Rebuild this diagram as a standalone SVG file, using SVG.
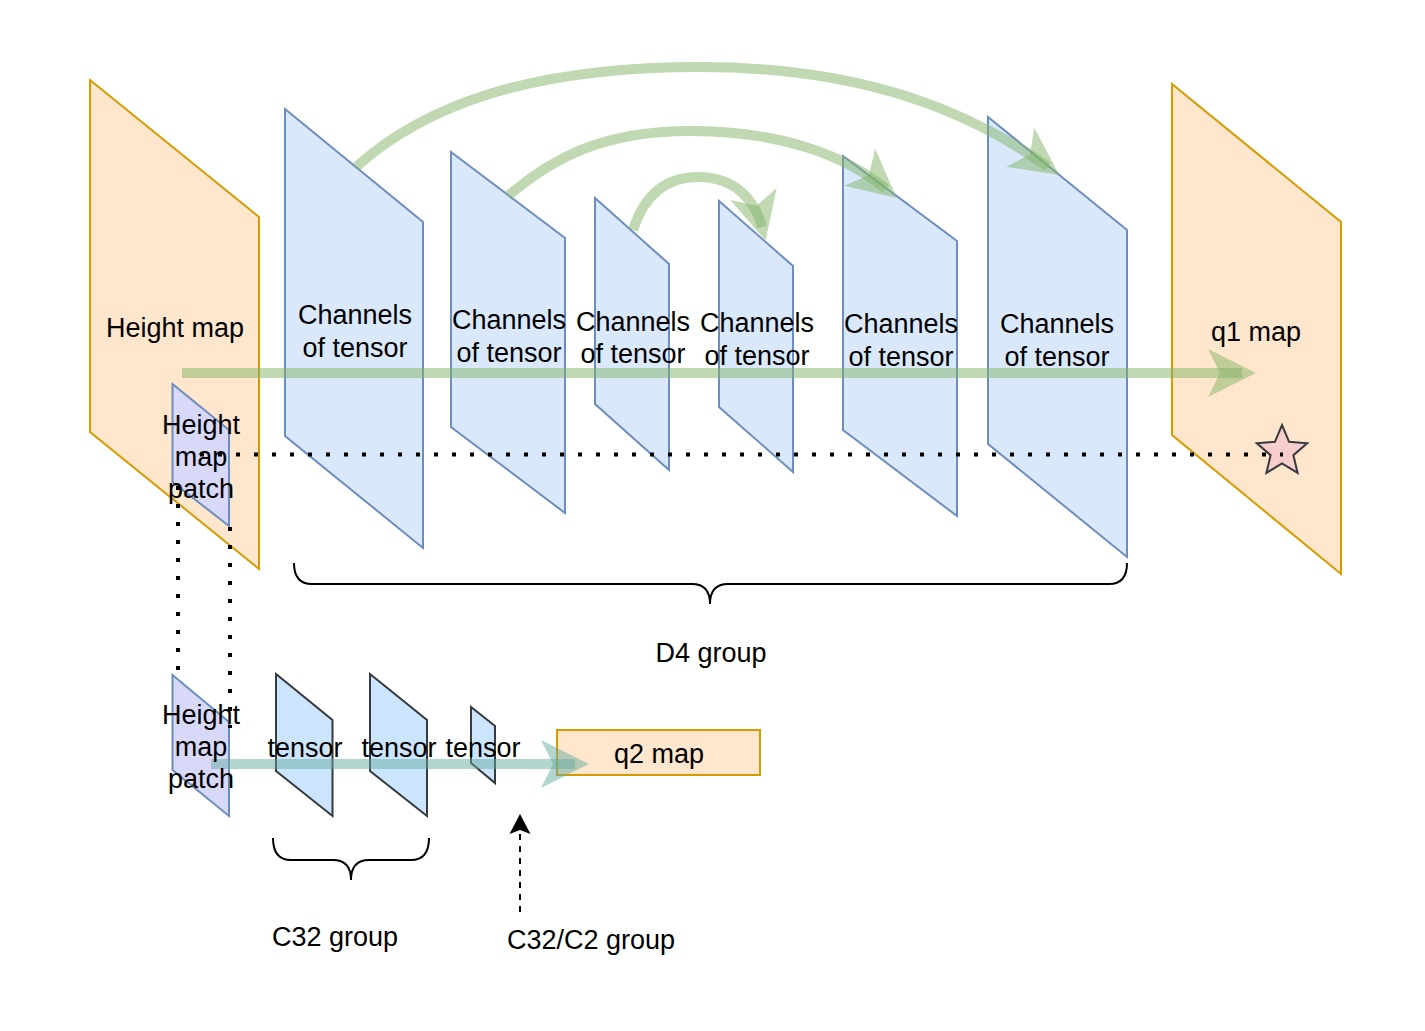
<svg xmlns="http://www.w3.org/2000/svg" width="1425" height="1031" viewBox="0 0 1425 1031">
<style>
text{font-family:"Liberation Sans",Arial,sans-serif;font-size:27px;fill:#000;text-anchor:middle}
.orange{fill:#ffe6cc;stroke:#d79b00;stroke-width:2}
.chan{fill:#dae8fc;stroke:#6c8ebf;stroke-width:2}
.patch{fill:#d8d8f8;stroke:#6c8ebf;stroke-width:2}
.tens{fill:#cce5ff;stroke:#36393d;stroke-width:2}
.brace{fill:none;stroke:#000;stroke-width:2}
.green{fill:none;stroke:#82b366;stroke-opacity:0.5;stroke-width:10}
.teal{fill:none;stroke:#67ab9f;stroke-opacity:0.5;stroke-width:10}
.dots{fill:none;stroke:#000;stroke-width:4;stroke-dasharray:4 14}
</style>
<defs>
<marker id="ahG" markerUnits="userSpaceOnUse" markerWidth="60" markerHeight="60" refX="-14" refY="0" orient="auto" style="overflow:visible">
<polygon points="0,0 -48,-24 -36,0 -48,24" fill="#82b366" fill-opacity="0.5"/>
</marker>
<marker id="ahT" markerUnits="userSpaceOnUse" markerWidth="60" markerHeight="60" refX="-14" refY="0" orient="auto" style="overflow:visible">
<polygon points="0,0 -48,-24 -36,0 -48,24" fill="#67ab9f" fill-opacity="0.5"/>
</marker>
</defs>
<rect width="1425" height="1031" fill="#ffffff"/>

<g id="height-map">
<polygon class="orange" points="90,80 259,217 259,569 90,432"/>
<text x="175" y="337">Height map</text>
</g>
<g id="ch1">
<polygon class="chan" points="285,109 423,222 423,548 285,436"/>
<text x="355" y="324">Channels</text><text x="355" y="357">of tensor</text>
</g>
<g id="ch2">
<polygon class="chan" points="451,152 565,238 565,513 451,427"/>
<text x="509" y="329">Channels</text><text x="509" y="362">of tensor</text>
</g>
<g id="ch3">
<polygon class="chan" points="595,198 669,264 669,470 595,404"/>
<text x="633" y="331">Channels</text><text x="633" y="363">of tensor</text>
</g>
<g id="ch4">
<polygon class="chan" points="719,201 793,266 793,472 719,407"/>
<text x="757" y="332">Channels</text><text x="757" y="365">of tensor</text>
</g>
<g id="ch5">
<polygon class="chan" points="843,156 957,241 957,516 843,430"/>
<text x="901" y="333">Channels</text><text x="901" y="366">of tensor</text>
</g>
<g id="ch6">
<polygon class="chan" points="988,117 1127,230 1127,557 988,444"/>
<text x="1057" y="333">Channels</text><text x="1057" y="366">of tensor</text>
</g>
<g id="q1-map">
<polygon class="orange" points="1172,84 1341,222 1341,574 1172,435"/>
<text x="1256" y="341">q1 map</text>
</g>
<g id="star">
<polygon points="1282,425 1289.1,441.8 1307.2,443.3 1293.4,455.2 1297.6,472.9 1282,463.5 1266.4,472.9 1270.6,455.2 1256.8,443.3 1274.9,441.8" fill="#f8cecc" stroke="#36393d" stroke-width="2"/>
</g>
<g id="patch-top">
<polygon class="patch" points="172.5,384 229,430 229,526 172.5,482"/>
<text x="201" y="434">Height</text><text x="201" y="466">map</text><text x="201" y="498">patch</text>
</g>
<g id="d4-brace">
<path class="brace" d="M294,563 Q294,584 312,584 L692,584 Q710,584 710,604 Q710,584 728,584 L1109,584 Q1127,584 1127,563"/>
<text x="711" y="662">D4 group</text>
</g>

<g id="patch-bottom">
<polygon class="patch" points="172.5,675 229,722 229,816 172.5,770"/>
</g>
<g id="tensor1">
<polygon class="tens" points="276,674 332.5,720 332.5,816 276,771"/>
</g>
<g id="tensor2">
<polygon class="tens" points="370,674 427,720 427,816 370,771"/>
</g>
<g id="tensor3">
<polygon class="tens" points="471,707 495,726 495,783 471,763"/>
</g>
<g id="q2-map">
<rect class="orange" x="557" y="730" width="203" height="45"/>
</g>
<g id="c32-brace">
<path class="brace" d="M273,838 Q273,860 291,860 L333,860 Q351,860 351,880 Q351,860 369,860 L411,860 Q429,860 429,838"/>
<text x="335" y="946">C32 group</text>
</g>
<g id="c32c2-label">
<text x="591" y="949">C32/C2 group</text>
</g>

<g id="connectors">
<path class="green" d="M182,373 L1242,373" marker-end="url(#ahG)"/>
<path class="green" d="M356,167 C425,105 530,67 700,67 C870,67 975,115 1048,167" marker-end="url(#ahG)"/>
<path class="green" d="M508,196 C550,160 600,131 690,131 C780,131 845,155 886,189" marker-end="url(#ahG)"/>
<path class="green" d="M633,230 C644,196 665,177 698,177 C735,177 755,200 762,227" marker-end="url(#ahG)"/>
<path class="dots" d="M200,454.5 L1283,454.5"/>
<path class="dots" d="M178,486 L178,680"/>
<path class="dots" d="M230,527 L230,728"/>
<path class="teal" d="M211,764 L575,764" marker-end="url(#ahT)"/>
<path d="M520,912 L520,830" fill="none" stroke="#000" stroke-width="2" stroke-dasharray="6 6"/>
<polygon points="520,814 509.5,834 520,830 530.5,834" fill="#000"/>
</g>

<g id="bottom-labels">
<text x="201" y="724">Height</text><text x="201" y="756">map</text><text x="201" y="788">patch</text>
<text x="305" y="757">tensor</text>
<text x="399" y="757">tensor</text>
<text x="483" y="757">tensor</text>
<text x="659" y="763">q2 map</text>
</g>
</svg>
